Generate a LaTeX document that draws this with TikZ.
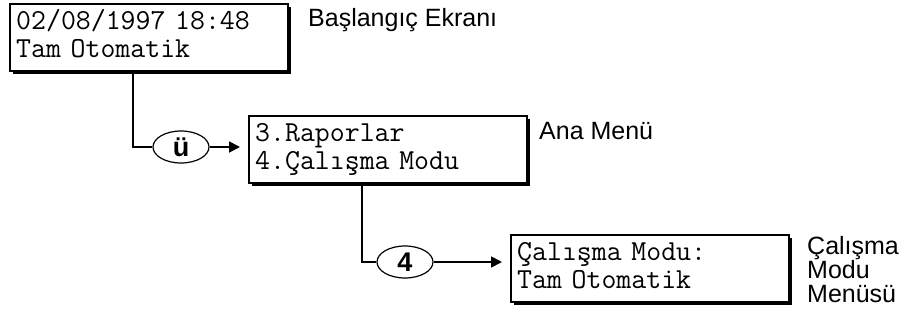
\documentclass[tikz,border=0pt]{standalone}
\usepackage{fontspec}
\setmainfont{Liberation Sans}
\setmonofont{Latin Modern Mono}
\usetikzlibrary{arrows.meta,shapes.geometric,shadows}

\tikzset{
  lcd/.style={draw, line width=2.4pt, fill=white,
    drop shadow={shadow xshift=2.5pt, shadow yshift=-2.5pt, opacity=1, fill=black},
    anchor=north west, align=left, text width=266pt, inner xsep=6pt, inner ysep=3pt,
    text height=22pt, text depth=39pt, font=\fontsize{29}{28.5}\selectfont\ttfamily},
  tus/.style={ellipse, draw, line width=1.2pt, fill=white, minimum width=56pt,
    minimum height=32pt, inner sep=0pt, font=\fontsize{27}{27}\selectfont\bfseries},
  etiket/.style={inner sep=0pt, align=left, font=\fontsize{25}{24}\selectfont},
  hat/.style={line width=1.8pt},
  ok/.style={hat, -{Triangle[length=11pt,width=11pt]}, shorten >=8pt}
}

\begin{document}
\begin{tikzpicture}[x=1pt,y=-1pt]
  \useasboundingbox (0,0) rectangle (917,324);
  \node[lcd] (ekran) at (9,3) {02/08/1997 18:48\\Tam Otomatik};
  \node[etiket, anchor=base west] (ekranad) at (308,27) {Başlangıç Ekranı};
  \node[lcd] (anamenu) at (248,115) {3.Raporlar\\4.Çalışma Modu};
  \node[etiket, anchor=base west] (anamenuad) at (539,139) {Ana Menü};
  \node[lcd] (modmenu) at (510,234) {Çalışma Modu:\\Tam Otomatik};
  \node[etiket, anchor=north west] (modmenuad) at (807,236) {Çalışma\\Modu\\Menüsü};
  \node[tus] (u) at (181,147) {ü};
  \node[tus] (dort) at (405,262) {4};
  \coordinate (j1) at ([xshift=124pt]ekran.south west);
  \coordinate (j2) at ([xshift=114pt]anamenu.south west);
  \draw[hat] (j1) |- (u.west);
  \draw[ok] (u.east) -- (u.east -| anamenu.west);
  \draw[hat] (j2) |- (dort.west);
  \draw[ok] (dort.east) -- (dort.east -| modmenu.west);
\end{tikzpicture}
\end{document}
